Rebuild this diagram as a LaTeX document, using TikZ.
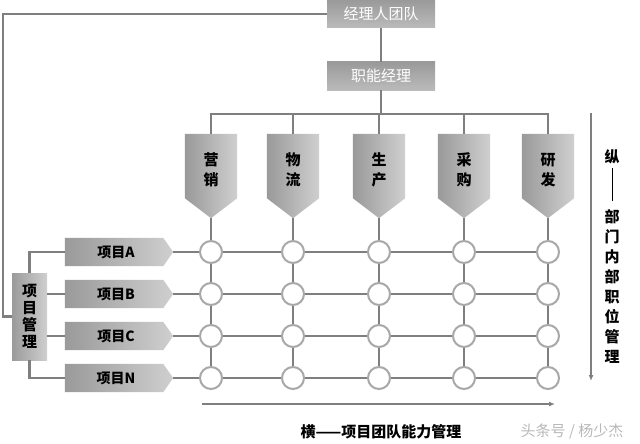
\documentclass[tikz,border=0pt]{standalone}
\usepackage{fontspec}
\setmainfont{Noto Sans CJK SC}
\usetikzlibrary{calc,arrows.meta}
\definecolor{linegray}{HTML}{7F7F7F}
\definecolor{boxdark}{HTML}{9A9A9A}
\definecolor{boxlight}{HTML}{CFCFCF}
\definecolor{circgray}{HTML}{A8A8A8}
\definecolor{wm}{HTML}{B8B8B8}
\begin{document}
\begin{tikzpicture}[x=1pt,y=-1pt,
  conn/.style={draw=linegray,line width=2.3pt},
  topbox/.style={rectangle,minimum width=108pt,minimum height=28pt,inner sep=0pt,
     top color=boxdark,bottom color=boxlight!90!black,text=white,
     font=\fontsize{15}{15}\selectfont},
  deptbox/.style={rectangle,minimum width=52pt,minimum height=84pt,inner sep=0pt,
     align=center,font=\fontsize{15}{20}\selectfont\bfseries},
  projbox/.style={rectangle,minimum width=108pt,minimum height=28pt,inner sep=0pt,
     font=\fontsize{14}{14}\selectfont\bfseries},
  pmbox/.style={rectangle,minimum width=35pt,minimum height=87pt,inner sep=0pt,
     align=center,left color=boxdark,right color=boxlight,
     font=\fontsize{15}{17}\selectfont\bfseries},
  cell/.style={circle,draw=circgray,fill=white,line width=2pt,minimum size=22pt,inner sep=0pt},
  axisarrow/.style={draw=linegray,line width=1.3pt,-{Latex[length=6pt,width=5pt]}},
  lbl/.style={font=\fontsize{15}{20}\selectfont\bfseries,align=center,inner sep=0pt}
]
\useasboundingbox (0,0) rectangle (640,444);

% top boxes
\node[topbox] (top) at (381,14) {经理人团队};
\node[topbox] (mgr) at (381,76) {职能经理};
\coordinate (bus) at (381,114);
\coordinate (lc) at (3,0);

% departments
\foreach \i/\x/\t in {1/211/营\\销,2/293/物\\流,3/379/生\\产,4/464/采\\购,5/548/研\\发}{
  \node[deptbox] (d\i) at (\x,176) {};
  \shade[left color=boxdark,right color=boxlight]
    (d\i.north west) -- (d\i.north east) -- ($(d\i.south east)+(0,-20)$)
    -- (d\i.south) -- ($(d\i.south west)+(0,-20)$) -- cycle;
  \node[deptbox] at ($(d\i.center)+(0,-6)$) {\t};
}

% projects
\foreach \j/\y/\t in {1/252/项目A,2/294/项目B,3/336/项目C,4/378/项目N}{
  \node[projbox] (p\j) at (119,\y) {};
  \shade[left color=boxdark,right color=boxlight]
    (p\j.north west) -- ($(p\j.north east)+(-10,0)$) -- (p\j.east)
    -- ($(p\j.south east)+(-10,0)$) -- (p\j.south west) -- cycle;
  \node[projbox] at ($(p\j.center)+(-3,0)$) {\t};
}

% project management box
\node[pmbox] (pm) at (29.5,316.5) {项\\目\\管\\理};

% connectors (top part)
\draw[conn] (top.south) -- (mgr.north);
\draw[conn] (mgr.south) -- (bus);
\draw[conn] (d1.north) |- (bus) -| (d5.north);
\draw[conn] (d2.north) -- (d2.north |- bus);
\draw[conn] (d3.north) -- (d3.north |- bus);
\draw[conn] (d4.north) -- (d4.north |- bus);
\draw[conn] (top.west) -| (pm.west -| lc) -- (pm.west);
\draw[conn] (pm.north) |- (p1.west);
\draw[conn] (pm.south) |- (p4.west);
\draw[conn] (p2.west -| pm.east) -- (p2.west);
\draw[conn] (p3.west -| pm.east) -- (p3.west);

% grid circles
\foreach \i/\x in {1/211,2/293,3/379,4/464,5/548}{
  \foreach \j/\y in {1/252,2/294,3/336,4/378}{
    \node[cell] (c\i\j) at (\x,\y) {};
  }
}
% grid lines
\foreach \i in {1,...,5}{
  \draw[conn] (d\i.south) -- (c\i1);
  \draw[conn] (c\i1) -- (c\i2);
  \draw[conn] (c\i2) -- (c\i3);
  \draw[conn] (c\i3) -- (c\i4);
}
\foreach \j in {1,...,4}{
  \draw[conn] (p\j.east) -- (c1\j);
  \draw[conn] (c1\j) -- (c2\j);
  \draw[conn] (c2\j) -- (c3\j);
  \draw[conn] (c3\j) -- (c4\j);
  \draw[conn] (c4\j) -- (c5\j);
}

% axes
\coordinate (va) at (591,113);
\coordinate (vb) at (591,381);
\draw[axisarrow] (va) -- (vb);
\coordinate (ha) at (202,404);
\coordinate (hb) at (555,404);
\draw[axisarrow] (ha) -- (hb);

% vertical label
\node[lbl] (zong) at (612,157) {纵};
\node[lbl] (vt) at (612,286) {部\\门\\内\\部\\职\\位\\管\\理};
\draw[line width=0.9pt] (612,168) -- (612,201);

% horizontal label
\node[lbl] (heng) at (381,432) {横——项目团队能力管理};
\node[font=\fontsize{15}{15}\selectfont,text=wm,inner sep=0pt] (wmark) at (572,432) {头条号 / 杨少杰};
\end{tikzpicture}
\end{document}
